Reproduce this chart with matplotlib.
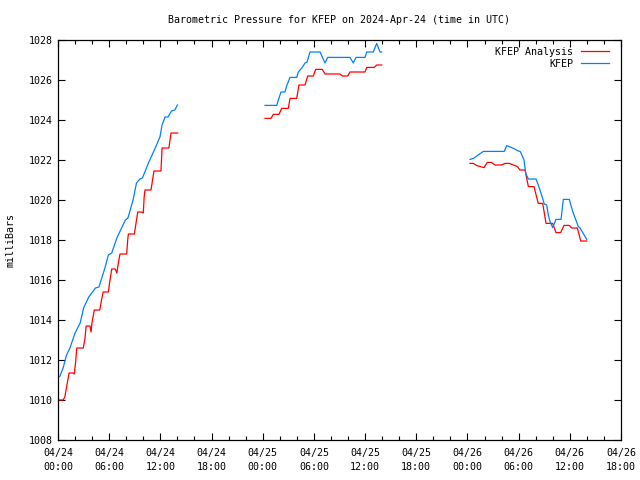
import numpy as np
import matplotlib
matplotlib.use("Agg")
import matplotlib.pyplot as plt
from matplotlib.ticker import MultipleLocator

# hours since 2024-04-24 00:00 UTC; NaN breaks the line between gaps
obs_hours = [0.2, 0.6, 1.0, 1.4, 2.0, 2.6, 3.0, 3.6, 4.4, 4.8, 5.5, 5.9, 6.3, 6.9,
             7.9, 8.2, 8.8, 9.2, 9.6, 9.9, 10.6, 11.4, 11.95, 12.2, 12.55, 12.9,
             13.3, 13.7, 14.0,
             np.nan,
             24.27, 25.64, 25.83, 26.14, 26.61, 26.8, 27.2, 27.98, 28.17, 28.57,
             28.96, 29.2, 29.54, 30.72, 31.3, 31.62, 34.23, 34.62, 34.94, 35.99,
             36.19, 36.96, 37.36, 37.75, 37.95,
             np.nan,
             48.3, 48.7, 49.09, 49.86, 52.32, 52.6, 53.4, 53.96, 54.2, 54.63,
             54.83, 55.14, 56.04, 56.3, 56.82, 57.0, 57.29, 57.48, 57.68, 57.99,
             58.38, 58.97, 59.24, 59.94, 60.34, 61.0, 61.2, 61.98]
obs_mb = [1011.17, 1011.6, 1012.25, 1012.6, 1013.35, 1013.85, 1014.6, 1015.15,
          1015.6, 1015.65, 1016.6, 1017.25, 1017.35, 1018.1, 1019.0, 1019.1,
          1020.0, 1020.85, 1021.05, 1021.1, 1021.85, 1022.6, 1023.15, 1023.75,
          1024.15, 1024.15, 1024.45, 1024.5, 1024.75,
          np.nan,
          1024.73, 1024.73, 1025.0, 1025.4, 1025.4, 1025.7, 1026.13, 1026.13,
          1026.4, 1026.6, 1026.85, 1026.9, 1027.4, 1027.4, 1026.85, 1027.13,
          1027.13, 1026.85, 1027.13, 1027.13, 1027.4, 1027.4, 1027.83, 1027.4,
          1027.4,
          np.nan,
          1022.03, 1022.08, 1022.2, 1022.43, 1022.43, 1022.72, 1022.58, 1022.45,
          1022.42, 1022.0, 1021.33, 1021.05, 1021.05, 1020.75, 1020.08, 1019.8,
          1019.75, 1019.25, 1018.92, 1018.62, 1019.03, 1019.03, 1020.03, 1020.03,
          1019.42, 1018.67, 1018.6, 1018.03]

ana_hours = [0.0, 0.6, 0.8, 1.05, 1.3, 1.75, 1.9, 2.07, 2.2, 2.97, 3.17, 3.3,
             3.75, 3.87, 4.0, 4.25, 4.9, 5.1, 5.3, 5.9, 6.1, 6.3, 6.7, 6.9,
             7.07, 7.27, 8.05, 8.17, 8.25, 8.95, 9.15, 9.35, 9.8, 10.0, 10.1,
             10.2, 10.9, 11.25, 12.07, 12.2, 13.0, 13.25, 14.03,
             np.nan,
             24.27, 24.97, 25.24, 25.91, 26.22, 27.0, 27.2, 27.98, 28.25, 28.96,
             29.27, 29.93, 30.21, 30.98, 31.3, 33.06, 33.33, 33.96, 34.23, 35.99,
             36.19, 37.08, 37.36, 37.95,
             np.nan,
             48.3, 48.7, 49.09, 49.94, 50.33, 50.8, 51.23, 52.0, 52.4, 52.9,
             53.38, 53.85, 54.16, 54.75, 55.14, 55.8, 56.3, 56.82, 57.21, 57.99,
             58.38, 58.93, 59.32, 59.94, 60.22, 60.88, 61.28, 61.98]
ana_mb = [1010.0, 1010.0, 1010.15, 1010.75, 1011.35, 1011.35, 1011.3, 1011.9,
          1012.6, 1012.6, 1013.1, 1013.7, 1013.7, 1013.4, 1013.9, 1014.5, 1014.5,
          1015.0, 1015.4, 1015.4, 1016.0, 1016.55, 1016.55, 1016.35, 1016.85,
          1017.3, 1017.3, 1018.0, 1018.3, 1018.3, 1018.85, 1019.4, 1019.4,
          1019.35, 1020.15, 1020.5, 1020.5, 1021.45, 1021.45, 1022.6, 1022.6,
          1023.35, 1023.35,
          np.nan,
          1024.08, 1024.08, 1024.28, 1024.28, 1024.58, 1024.58, 1025.08, 1025.08,
          1025.75, 1025.75, 1026.2, 1026.2, 1026.53, 1026.53, 1026.3, 1026.3,
          1026.2, 1026.2, 1026.4, 1026.4, 1026.63, 1026.63, 1026.75, 1026.75,
          np.nan,
          1021.83, 1021.83, 1021.72, 1021.62, 1021.88, 1021.88, 1021.75, 1021.75,
          1021.83, 1021.83, 1021.75, 1021.67, 1021.5, 1021.5, 1020.67, 1020.67,
          1019.83, 1019.83, 1018.83, 1018.83, 1018.37, 1018.37, 1018.73, 1018.73,
          1018.6, 1018.6, 1017.95, 1017.95]

tick_hours = list(range(0, 67, 6))
tick_labels = ["04/24\n00:00", "04/24\n06:00", "04/24\n12:00", "04/24\n18:00",
               "04/25\n00:00", "04/25\n06:00", "04/25\n12:00", "04/25\n18:00",
               "04/26\n00:00", "04/26\n06:00", "04/26\n12:00", "04/26\n18:00"]

plt.rcParams["font.family"] = "DejaVu Sans Mono"
plt.rcParams["font.size"] = 7.2

fig = plt.figure(figsize=(6.4, 4.8), dpi=100)
ax = fig.add_axes([58 / 640, 40 / 480, 563 / 640, 400 / 480])

ax.plot(ana_hours, ana_mb, color="#ff0000", lw=0.9, label="KFEP Analysis")
ax.plot(obs_hours, obs_mb, color="#0080ff", lw=0.9, label="KFEP")

ax.set_xlim(0, 66)
ax.set_ylim(1008, 1028)
ax.set_xticks(tick_hours)
ax.set_xticklabels(tick_labels, linespacing=1.5)
ax.xaxis.set_minor_locator(MultipleLocator(2))
ax.set_yticks(range(1008, 1029, 2))
ax.tick_params(which="both", direction="in", top=True, right=True)
ax.tick_params(which="major", length=5, width=0.8)
ax.tick_params(which="minor", length=3, width=0.8)
ax.tick_params(axis="x", pad=6)
for s in ax.spines.values():
    s.set_linewidth(0.9)

ax.set_ylabel("milliBars", labelpad=10)
ax.set_title("Barometric Pressure for KFEP on 2024-Apr-24 (time in UTC)",
             fontsize=7.2, pad=12)
ax.legend(loc="upper right", bbox_to_anchor=(1, 1.013), frameon=False,
          markerfirst=False, handlelength=2.8, handletextpad=0.8,
          borderaxespad=0.8, labelspacing=0.2)

plt.savefig("out.png", dpi=100)
